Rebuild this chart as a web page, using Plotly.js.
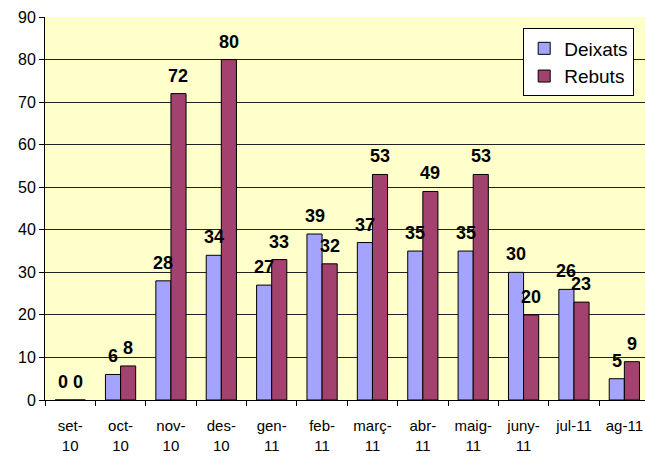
<!DOCTYPE html>
<html>
<head>
<meta charset="utf-8">
<script src="https://cdn.plot.ly/plotly-3.0.1.min.js"></script>
<style>html,body{margin:0;padding:0;background:#fff;}#chart{width:645px;height:458px;}</style>
</head>
<body>
<div id="chart"></div>
<script>
var categories = ["set-<br>10","oct-<br>10","nov-<br>10","des-<br>10","gen-<br>11","feb-<br>11","març-<br>11","abr-<br>11","maig-<br>11","juny-<br>11","jul-11","ag-11"];
var deixats = [0, 6, 28, 34, 27, 39, 37, 35, 35, 30, 26, 5];
var rebuts  = [0, 8, 72, 80, 33, 32, 53, 49, 53, 20, 23, 9];
var yTicks = [0,10,20,30,40,50,60,70,80,90];

var font = "Liberation Sans, Arial, sans-serif";
var labelFont = {family: font, size: 18, color: "#000", weight: "bold"};

var traces = [
  {type: "bar", name: "Deixats", x: categories, y: deixats,
   marker: {color: "#A4A4FF", line: {color: "#000", width: 1}},
   hoverinfo: "none"},
  {type: "bar", name: "Rebuts", x: categories, y: rebuts,
   marker: {color: "#A3426F", line: {color: "#000", width: 1}},
   hoverinfo: "none"}
];

var annotations = [];
function addLabels(vals, shift) {
  vals.forEach(function (v, i) {
    annotations.push({x: categories[i], y: v, xref: "x", yref: "y", text: String(v),
      showarrow: false, xanchor: "center", yanchor: "bottom", xshift: shift, yshift: 6,
      font: labelFont});
  });
}
addLabels(deixats, -7.5);
addLabels(rebuts, 7.5);

var layout = {
  width: 645, height: 458,
  margin: {l: 45, r: 0, t: 17, b: 58},
  paper_bgcolor: "#FFFFFF",
  plot_bgcolor: "#FFFFCC",
  barmode: "group",
  bargap: 0.4,
  bargroupgap: 0,
  font: {family: font, size: 15, color: "#000"},
  showlegend: true,
  annotations: annotations,
  legend: {x: 0.982, y: 0.97, xanchor: "right", yanchor: "top",
           bgcolor: "#FFFFFF", bordercolor: "#000", borderwidth: 1,
           font: {family: font, size: 19, color: "#000"},
           itemwidth: 30, tracegroupgap: 0},
  xaxis: {type: "category", range: [-0.5, 11.41], showline: true, linecolor: "#000", linewidth: 1,
          ticks: "outside", tickson: "boundaries", ticklen: 5, tickcolor: "#000",
          ticklabelstandoff: 12,
          showgrid: false, tickangle: 0, tickfont: {family: font, size: 15, color: "#000"},
          fixedrange: true},
  yaxis: {range: [0, 90], tickvals: yTicks, showline: true, linecolor: "#000", linewidth: 1,
          ticks: "outside", ticklen: 5, tickcolor: "#000",
          showgrid: true, gridcolor: "#222", gridwidth: 1,
          zeroline: true, zerolinecolor: "#000",
          tickfont: {family: font, size: 16, color: "#000"}, fixedrange: true}
};

Plotly.newPlot("chart", traces, layout, {displayModeBar: false, staticPlot: true});
</script>
</body>
</html>
